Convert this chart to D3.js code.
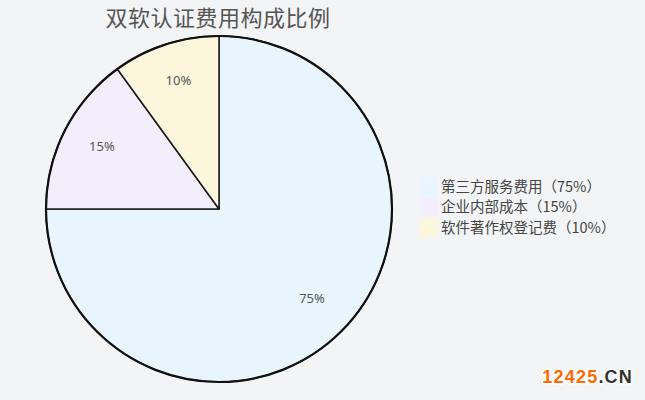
<!DOCTYPE html>
<html>
<head>
<meta charset="utf-8">
<script src="https://cdn.jsdelivr.net/npm/d3@7"></script>
<style>
  html, body { margin: 0; padding: 0; background: #f3f4f6; }
  svg { display: block; }
</style>
</head>
<body>
<svg id="chart" width="645" height="400"></svg>
<script>
const categories = ['第三方服务费用', '企业内部成本', '软件著作权登记费'];
const shares = [75, 15, 10];
const colours = ['#e8f5fd', '#f3eefc', '#fbf6dc'];

const svg = d3.select('#chart');
const cx = 219, cy = 209, radius = 173;

svg.append('text')
  .attr('x', 218).attr('y', 26)
  .attr('text-anchor', 'middle')
  .attr('font-family', '"Noto Sans CJK SC", sans-serif')
  .attr('font-size', 22)
  .attr('letter-spacing', 0.5)
  .attr('fill', '#555')
  .text('双软认证费用构成比例');

const pie = d3.pie().sort(null).value(d => d);
const arcs = pie(shares);
const arc = d3.arc().innerRadius(0).outerRadius(radius);
const labelArc = d3.arc().innerRadius(radius * 0.76).outerRadius(radius * 0.76);

const g = svg.append('g').attr('transform', `translate(${cx},${cy})`);

g.selectAll('.slice')
  .data(arcs)
  .enter().append('path')
  .attr('class', 'slice')
  .attr('d', arc)
  .attr('fill', (d, i) => colours[i])
  .attr('stroke', '#1a1a1a')
  .attr('stroke-width', 1.5)
  .attr('stroke-linejoin', 'round');

// heavier outer rim
g.append('circle')
  .attr('r', radius)
  .attr('fill', 'none')
  .attr('stroke', '#111')
  .attr('stroke-width', 2.2);

g.selectAll('.label')
  .data(arcs)
  .enter().append('text')
  .attr('class', 'label')
  .attr('transform', d => `translate(${labelArc.centroid(d)})`)
  .attr('text-anchor', 'middle')
  .attr('dy', '0.1em')
  .attr('font-family', '"Noto Sans", sans-serif')
  .attr('font-size', 13)
  .attr('fill', '#555')
  .text(d => `${d.data}%`);

const legend = svg.append('g').attr('transform', 'translate(420,177)');
const item = legend.selectAll('.item')
  .data(categories)
  .enter().append('g')
  .attr('class', 'item')
  .attr('transform', (d, i) => `translate(0,${i * 20.5})`);

item.append('rect')
  .attr('width', 18).attr('height', 19)
  .attr('fill', (d, i) => colours[i]);

item.append('text')
  .attr('x', 21).attr('y', 9.5)
  .attr('dy', '0.35em')
  .attr('font-family', '"Noto Sans CJK SC", sans-serif')
  .attr('font-size', 14.5)
  .attr('fill', '#444')
  .text((d, i) => `${d}（${shares[i]}%）`);

// site watermark
const wm = svg.append('text')
  .attr('x', 633).attr('y', 383)
  .attr('text-anchor', 'end')
  .attr('font-family', '"Liberation Sans", Arial, sans-serif')
  .attr('font-weight', 'bold')
  .attr('font-size', 18)
  .attr('letter-spacing', 1.2)
  .attr('stroke', '#fff').attr('stroke-width', 3)
  .attr('paint-order', 'stroke');
wm.append('tspan').attr('fill', '#ff6a00').text('12425');
wm.append('tspan').attr('fill', '#333').text('.CN');
</script>
</body>
</html>
